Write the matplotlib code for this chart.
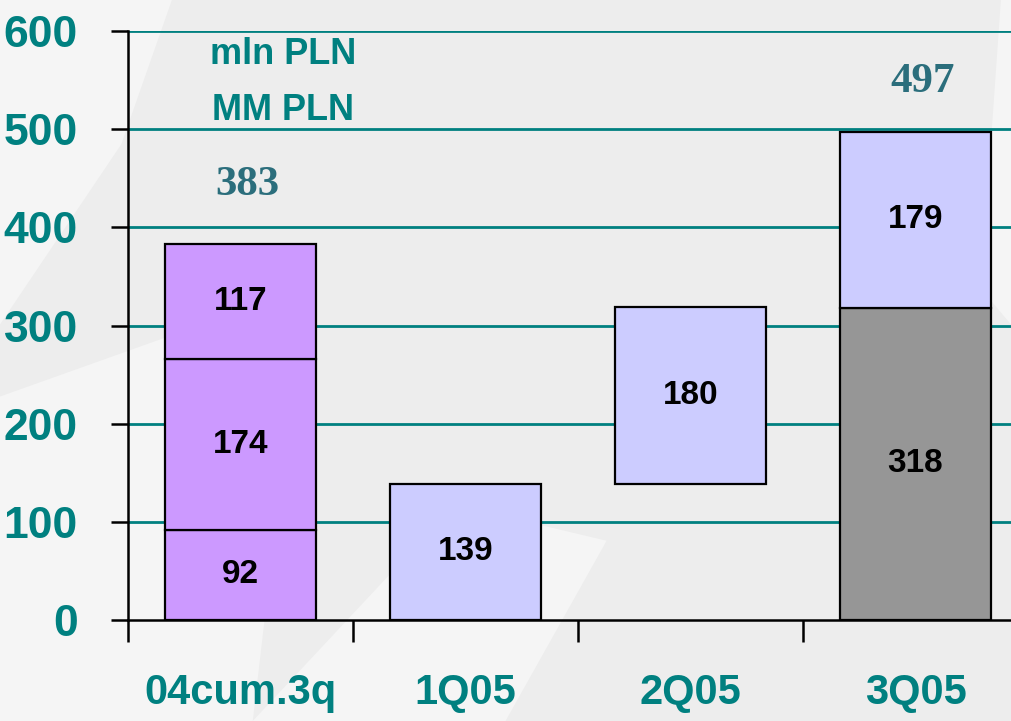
import numpy as np
import matplotlib
matplotlib.use('Agg')
import matplotlib.pyplot as plt
from matplotlib import font_manager
from matplotlib.patches import Polygon

names = {f.name for f in font_manager.fontManager.ttflist}
narrow = 'Liberation Sans Narrow' if 'Liberation Sans Narrow' in names else 'Liberation Sans'

categories = ['04cum.3q', '1Q05', '2Q05', '3Q05']
# stacked segments: category index, bottom, height, colour
seg_cat = [0, 0, 0, 1, 2, 3, 3]
seg_bottom = [0, 92, 266, 0, 139, 0, 318]
seg_value = [92, 174, 117, 139, 180, 318, 179]
seg_color = ['#CC99FF', '#CC99FF', '#CC99FF', '#CCCCFF', '#CCCCFF', '#969696', '#CCCCFF']
total_cat = [0, 3]
total_value = [383, 497]
yticks = [0, 100, 200, 300, 400, 500, 600]

teal = '#008080'
fig = plt.figure(figsize=(10.11, 7.21), dpi=100, facecolor='#EDEDED')
# faint watermark shapes in the background
shapes = [
    [(0, 1.0), (0.17, 1.0), (0.12, 0.8), (0.0, 0.55)],
    [(0, 0.45), (0.3, 0.6), (0.25, 0.0), (0, 0.0)],
    [(0.25, 0.0), (0.45, 0.3), (0.6, 0.25), (0.5, 0.0)],
    [(0.99, 1.0), (1.0, 1.0), (1.0, 0.55), (0.97, 0.6)],
]
for pts in shapes:
    fig.patches.append(Polygon(pts, closed=True, transform=fig.transFigure,
                               color='#F5F5F5', zorder=-10, lw=0))

ax = fig.add_axes([128/1011, 1-620/721, 900/1011, 589/721])
ax.set_facecolor('none')
ax.set_xlim(-0.5, 3.5)
ax.set_ylim(0, 600)

for y in yticks[1:]:
    ax.axhline(y, color=teal, lw=2, zorder=1)

for c, b, v, col in zip(seg_cat, seg_bottom, seg_value, seg_color):
    ax.bar(c, v, bottom=b, width=0.667, color=col, edgecolor='black', lw=1.6, zorder=3)
    ax.text(c, b + v / 2, str(v), ha='center', va='center', fontsize=24,
            fontweight='bold', family=[narrow, 'DejaVu Sans'], color='black', zorder=4)

total_offset = [60, 51]
for c, t, off in zip(total_cat, total_value, total_offset):
    ax.text(c + 0.03, t + off, str(t), ha='center', va='center', fontsize=31,
            fontweight='bold', family='Liberation Serif', color='#2B6E7C')

ax.text(0.19, 576, 'mln PLN', ha='center', va='center', fontsize=26,
        fontweight='bold', family=[narrow, 'DejaVu Sans'], color=teal)
ax.text(0.19, 519, 'MM PLN', ha='center', va='center', fontsize=26,
        fontweight='bold', family=[narrow, 'DejaVu Sans'], color=teal)

for s in ['top', 'right']:
    ax.spines[s].set_visible(False)
for s in ['left', 'bottom']:
    ax.spines[s].set_linewidth(1.8)
    ax.spines[s].set_zorder(5)

ax.set_yticks(yticks)
ax.set_yticklabels([str(t) for t in yticks], fontsize=32, fontweight='bold',
                   family=[narrow, 'DejaVu Sans'], color=teal)
ax.tick_params(axis='y', length=12, width=1.8, pad=24)

ax.set_xticks([-0.5, 0.5, 1.5, 2.5, 3.5])
ax.set_xticklabels([])
ax.tick_params(axis='x', length=16, width=1.8, direction='out')
ax.set_xticks(range(4), minor=True)
ax.set_xticklabels(categories, minor=True, fontsize=30, fontweight='bold',
                   family=[narrow, 'DejaVu Sans'], color=teal)
ax.tick_params(axis='x', which='minor', length=0, pad=38)

fig.savefig('out.png', dpi=100, facecolor=fig.get_facecolor())
